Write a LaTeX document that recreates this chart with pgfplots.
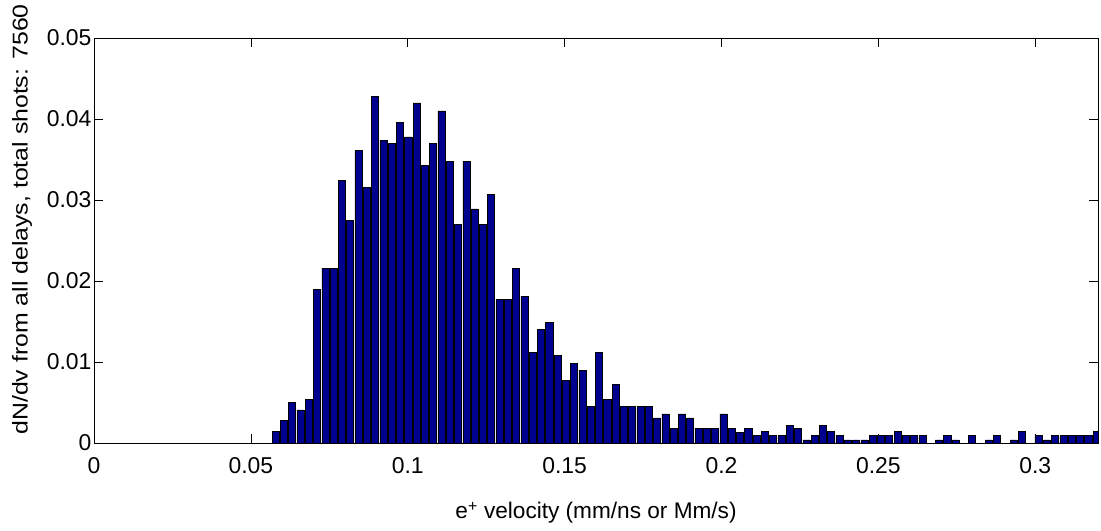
\documentclass[border=0pt]{standalone}
\usepackage{fontspec}
\setmainfont{Liberation Sans}
\usepackage{graphicx}
\usepackage{pgfplots}
\pgfplotsset{compat=1.18}
\definecolor{barblue}{rgb}{0,0,0.56}
\begin{document}
\begin{tikzpicture}[x=1bp,y=1bp]
\useasboundingbox (0,0) rectangle (1101,531);
\begin{axis}[
  at={(94bp,88bp)}, anchor=south west,
  scale only axis, width=1004bp, height=405bp,
  xmin=0, xmax=0.32, ymin=0, ymax=0.05,
  xtick={0,0.05,0.1,0.15,0.2,0.25,0.3},
  ytick={0,0.01,0.02,0.03,0.04,0.05},
  scaled ticks=false,
  /pgf/number format/fixed,
  /pgf/number format/precision=3,
  /pgf/number format/assume math mode=true,
  tick align=inside,
  major tick length=9bp,
  tick style={black, line width=0.6bp},
  axis line style={black, line width=0.8bp},
  tick label style={font=\fontsize{23}{27}\selectfont},
  xticklabel style={yshift=-11bp},
  yticklabel style={xshift=1bp},
  xlabel={e\textsuperscript{+} velocity (mm/ns or Mm/s)},
  xlabel style={font=\fontsize{22.7}{27}\selectfont, at={(axis description cs:0.5,-0.187)}, anchor=base},
  ylabel={\scalebox{1.16}[1]{dN/dv from all delays, total shots: 7560}},
  ylabel style={font=\fontsize{21.5}{25}\selectfont, at={(axis description cs:-0.066,0.012)}, anchor=base west},
]
\addplot[ybar, bar width=0.00225, fill=barblue, draw=black, line width=0.5bp] coordinates {
(0.05787,0.0014) (0.06051,0.0028) (0.06316,0.0050) (0.06580,0.0041) (0.06844,0.0054)
(0.07109,0.0190) (0.07373,0.0216) (0.07637,0.0216) (0.07901,0.0324) (0.08166,0.0275)
(0.08430,0.0361) (0.08694,0.0316) (0.08959,0.0428) (0.09223,0.0374) (0.09487,0.0370)
(0.09752,0.0396) (0.10016,0.0378) (0.10280,0.0420) (0.10544,0.0343) (0.10809,0.0370)
(0.11073,0.0410) (0.11337,0.0348) (0.11602,0.0270) (0.11866,0.0348) (0.12130,0.0289)
(0.12395,0.0270) (0.12659,0.0307) (0.12923,0.0177) (0.13187,0.0177) (0.13452,0.0216)
(0.13716,0.0181) (0.13980,0.0112) (0.14245,0.0140) (0.14509,0.0149) (0.14773,0.0108)
(0.15038,0.0077) (0.15302,0.0098) (0.15566,0.0090) (0.15830,0.0045) (0.16095,0.0112)
(0.16359,0.0054) (0.16623,0.0072) (0.16888,0.0045) (0.17152,0.0045) (0.17416,0.0045)
(0.17681,0.0045) (0.17945,0.0031) (0.18209,0.0036) (0.18473,0.0018) (0.18738,0.0036)
(0.19002,0.0031) (0.19266,0.0018) (0.19531,0.0018) (0.19795,0.0018) (0.20059,0.0036)
(0.20324,0.0018) (0.20588,0.0013) (0.20852,0.0018) (0.21116,0.0009) (0.21381,0.0014)
(0.21645,0.0009) (0.21909,0.0009) (0.22174,0.0022) (0.22438,0.0018) (0.22702,0.0004)
(0.22967,0.0009) (0.23231,0.0022) (0.23495,0.0014) (0.23759,0.0009) (0.24024,0.0004)
(0.24288,0.0004) (0.24552,0.0004) (0.24817,0.0009) (0.25081,0.0009) (0.25345,0.0009)
(0.25610,0.0014) (0.25874,0.0009) (0.26138,0.0009) (0.26402,0.0009)
(0.26931,0.0004) (0.27195,0.0009) (0.27460,0.0004)
(0.27988,0.0009)
(0.28517,0.0004) (0.28781,0.0009)
(0.29310,0.0004) (0.29574,0.0014)
(0.30103,0.0009) (0.30367,0.0004) (0.30631,0.0009) (0.30896,0.0009) (0.31160,0.0009)
(0.31424,0.0009) (0.31688,0.0009) (0.31953,0.0014)
};
\end{axis}
\end{tikzpicture}
\end{document}
